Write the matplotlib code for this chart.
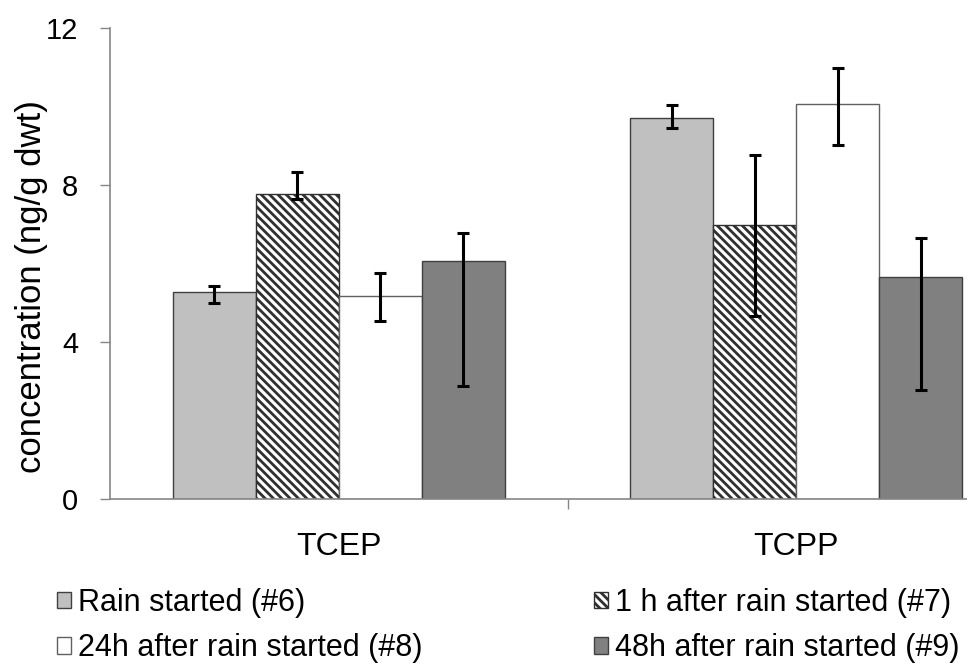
import matplotlib
matplotlib.use("Agg")
import matplotlib.pyplot as plt
import numpy as np

plt.rcParams["font.family"] = ["Liberation Sans", "DejaVu Sans"]
plt.rcParams["hatch.linewidth"] = 2.0
plt.rcParams["hatch.color"] = "black"

categories = ["TCEP", "TCPP"]
series = ["Rain started (#6)", "1 h after rain started (#7)",
          "24h after rain started (#8)", "48h after rain started (#9)"]
# bar heights per series, [TCEP, TCPP]
values = [
    [5.27, 9.71],
    [7.76, 6.99],
    [5.18, 10.07],
    [6.06, 5.65],
]
# error bar ends (lower, upper)
err_low = [
    [4.99, 9.45],
    [7.64, 4.67],
    [4.54, 9.01],
    [2.89, 2.77],
]
err_high = [
    [5.43, 10.03],
    [8.32, 8.77],
    [5.76, 10.97],
    [6.77, 6.64],
]
fills = ["#c0c0c0", "white", "white", "#808080"]
hatches = [None, "\\\\\\\\", None, None]
edges = ["#404040", "#303030", "#606060", "#404040"]

fig = plt.figure(figsize=(9.67, 6.67), dpi=100)
# plot area runs past the right edge, as in the reference
ax = fig.add_axes([110 / 967, 168 / 667, 915 / 967, 471 / 667])

x = np.arange(len(categories))
w = 0.1815
handles = []
for i, name in enumerate(series):
    pos = x + (i - 1.5) * w
    v = np.array(values[i])
    yerr = np.array([v - np.array(err_low[i]), np.array(err_high[i]) - v])
    b = ax.bar(pos, v, w, color=fills[i], hatch=hatches[i], edgecolor=edges[i],
               linewidth=1.0, label=name, zorder=2)
    ax.errorbar(pos, v, yerr=yerr, fmt="none", ecolor="black", elinewidth=2.2,
                capsize=4, capthick=2.2, zorder=3)
    handles.append(b)

ax.set_xlim(-0.5, 1.5)
ax.set_ylim(0, 12)
ax.set_yticks([0, 4, 8, 12])
ax.tick_params(axis="y", direction="out", length=7, width=1, color="#868686",
               labelsize=21, pad=16)
ax.set_xticks([0.5])
ax.set_xticklabels([""])
ax.tick_params(axis="x", direction="out", length=7, width=1, color="#868686")
for i, c in enumerate(categories):
    ax.text(x[i], -0.102, c, transform=ax.get_xaxis_transform(), ha="center",
            va="center", fontsize=23)
ax.set_ylabel("concentration (ng/g dwt)", fontsize=25)
ax.yaxis.set_label_coords(-0.068, 0.452)

for s in ["top", "right"]:
    ax.spines[s].set_visible(False)
for s in ["left", "bottom"]:
    ax.spines[s].set_color("#868686")
    ax.spines[s].set_linewidth(1.2)

order = [0, 2, 1, 3]
leg = fig.legend([handles[k] for k in order], [series[k] for k in order],
                 loc="upper left", bbox_to_anchor=(57 / 967, 1 - 588 / 667), ncol=2,
                 frameon=False, fontsize=22, handlelength=0.45, handleheight=0.45,
                 handletextpad=0.25, columnspacing=5.6, labelspacing=0.5,
                 borderaxespad=0, borderpad=0)

fig.savefig("out.png", dpi=100)
